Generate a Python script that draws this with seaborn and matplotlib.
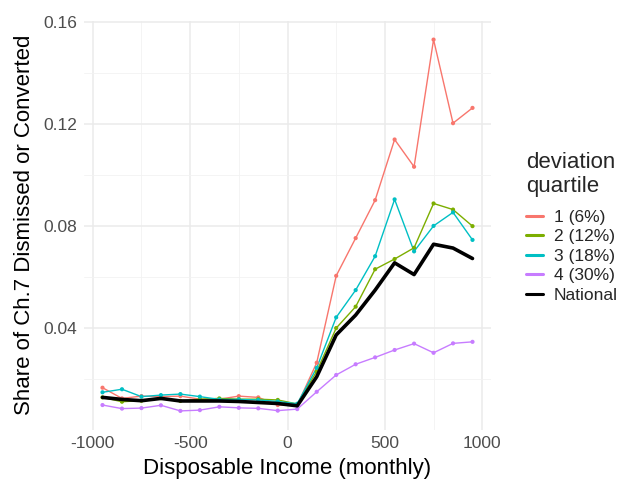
import numpy as np
import pandas as pd
import matplotlib
matplotlib.use("Agg")
import matplotlib.pyplot as plt
from matplotlib.lines import Line2D
import seaborn as sns

income = [-950, -850, -750, -650, -550, -450, -350, -250, -150, -50,
          50, 150, 250, 350, 450, 550, 650, 750, 850, 950]

q1 = [0.0166, 0.0124, 0.0133, 0.0131, 0.0133, 0.0121, 0.0121, 0.0133, 0.0128, 0.0098,
      0.0098, 0.0264, 0.0605, 0.0753, 0.0902, 0.1140, 0.1033, 0.1532, 0.1204, 0.1264]
q2 = [0.0128, 0.0111, 0.0115, 0.0125, 0.0114, 0.0121, 0.0124, 0.0121, 0.0121, 0.0118,
      0.0102, 0.0230, 0.0400, 0.0484, 0.0631, 0.0671, 0.0715, 0.0889, 0.0865, 0.0800]
q3 = [0.0148, 0.0160, 0.0131, 0.0137, 0.0141, 0.0131, 0.0120, 0.0120, 0.0118, 0.0112,
      0.0103, 0.0244, 0.0442, 0.0549, 0.0682, 0.0905, 0.0701, 0.0801, 0.0854, 0.0746]
q4 = [0.0098, 0.0084, 0.0086, 0.0097, 0.0075, 0.0078, 0.0091, 0.0087, 0.0085, 0.0076,
      0.0082, 0.0150, 0.0216, 0.0258, 0.0285, 0.0314, 0.0339, 0.0303, 0.0340, 0.0346]
national = [0.0128, 0.0120, 0.0115, 0.0124, 0.0114, 0.0114, 0.0114, 0.0112, 0.0108, 0.0104,
            0.0095, 0.0209, 0.0373, 0.0451, 0.0549, 0.0656, 0.0610, 0.0729, 0.0714, 0.0673]

labels = ["1 (6%)", "2 (12%)", "3 (18%)", "4 (30%)"]
colors = ["#F8766D", "#7CAE00", "#00BFC4", "#C77CFF"]

x_major = [-1000, -500, 0, 500, 1000]
x_minor = [-750, -250, 250, 750]
y_major = [0.04, 0.08, 0.12, 0.16]
y_minor = [0.02, 0.06, 0.10, 0.14]

rows = []
for lab, vals in zip(labels, [q1, q2, q3, q4]):
    for xi, v in zip(income, vals):
        rows.append({"income": xi, "share": v, "quartile": lab})
df = pd.DataFrame(rows)
df_nat = pd.DataFrame({"income": income, "share": national})

sns.set_theme(style="white")
plt.rcParams['font.family'] = ['Liberation Sans', 'DejaVu Sans']

fig = plt.figure(figsize=(6.26, 4.83), dpi=100)
ax = fig.add_axes([84/626, 1 - 429.5/483, (491-84)/626, (429.5-21)/483])

pal = dict(zip(labels, colors))
sns.lineplot(data=df, x="income", y="share", hue="quartile", palette=pal,
             linewidth=1.0, ax=ax, legend=False, zorder=3)
sns.scatterplot(data=df, x="income", y="share", hue="quartile", palette=pal,
                s=9, linewidth=0, ax=ax, legend=False, zorder=4)
sns.lineplot(data=df_nat, x="income", y="share", color="black",
             linewidth=2.6, ax=ax, zorder=5)

ax.set_xlim(-1045, 1045)
ax.set_ylim(0.0002, 0.1605)
ax.set_xticks(x_major)
ax.set_xticks(x_minor, minor=True)
ax.set_yticks(y_major)
ax.set_yticks(y_minor, minor=True)
ax.set_xticklabels([str(v) for v in x_major])
ax.set_yticklabels(["%.2f" % v for v in y_major])
ax.grid(which="major", color="#EBEBEB", linewidth=1.1)
ax.grid(which="minor", color="#F2F2F2", linewidth=0.6)
ax.set_axisbelow(True)
for s in ax.spines.values():
    s.set_visible(False)
ax.tick_params(axis="both", which="both", length=0, labelsize=12.5,
               labelcolor="#4D4D4D", pad=5)
ax.set_xlabel("Disposable Income (monthly)", fontsize=16, color="black", labelpad=5)
ax.set_ylabel("Share of Ch.7 Dismissed or Converted", fontsize=16, color="black", labelpad=6)

handles = [Line2D([0], [0], color=c, lw=2.2) for c in colors]
handles.append(Line2D([0], [0], color="black", lw=2.2))
leg = fig.legend(handles, labels + ["National"], title="deviation\nquartile",
                 loc="upper left", bbox_to_anchor=(519/626, 1 - 145/483),
                 frameon=False, fontsize=12.5, title_fontsize=16,
                 handlelength=1.0, handletextpad=0.6, labelspacing=0.25,
                 borderaxespad=0)
leg._legend_box.align = "left"
leg._legend_box.sep = 9

fig.savefig("out.png", dpi=100)
